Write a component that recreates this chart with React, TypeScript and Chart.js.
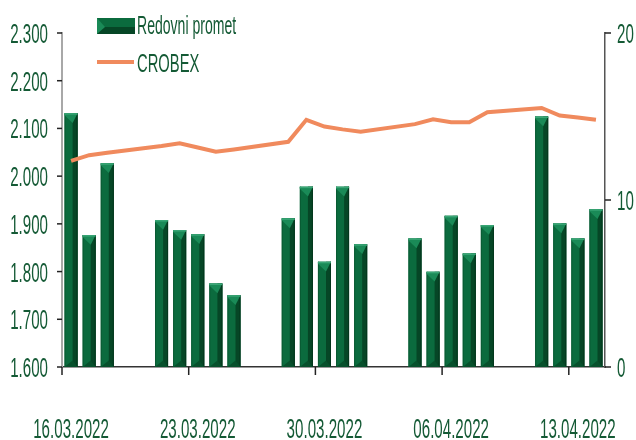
import React, { useEffect, useRef } from "react";
import { Chart, registerables } from "chart.js";

Chart.register(...registerables);

// ---- data ----
const dates = [
  "16.03.2022", "17.03.2022", "18.03.2022", "19.03.2022", "20.03.2022",
  "21.03.2022", "22.03.2022", "23.03.2022", "24.03.2022", "25.03.2022",
  "26.03.2022", "27.03.2022", "28.03.2022", "29.03.2022", "30.03.2022",
  "31.03.2022", "01.04.2022", "02.04.2022", "03.04.2022", "04.04.2022",
  "05.04.2022", "06.04.2022", "07.04.2022", "08.04.2022", "09.04.2022",
  "10.04.2022", "11.04.2022", "12.04.2022", "13.04.2022", "14.04.2022",
];

// Redovni promet (right axis, 0–20)
const turnover: (number | null)[] = [
  15.2, 7.9, 12.2, null, null,
  8.8, 8.2, 7.95, 5.0, 4.3,
  null, null, 8.9, 10.8, 6.3,
  10.8, 7.35, null, null, 7.7,
  5.7, 9.05, 6.8, 8.5, null,
  null, 15.0, 8.6, 7.7, 9.45,
];

// CROBEX (left axis, 1.600–2.300)
const crobex: (number | null)[] = [
  2032, 2044, 2049, null, null,
  2063, 2069, 2060, 2051, 2056,
  null, null, 2072, 2118, 2104,
  2098, 2093, null, null, 2109,
  2119, 2113, 2113, 2134, null,
  null, 2143, 2127, 2123, 2118,
];

const leftTicks = [1600, 1700, 1800, 1900, 2000, 2100, 2200, 2300];
const leftTickLabels = ["1.600", "1.700", "1.800", "1.900", "2.000", "2.100", "2.200", "2.300"];
const rightTicks = [0, 10, 20];
const rightTickLabels = ["0", "10", "20"];
const labelledDates = ["16.03.2022", "23.03.2022", "30.03.2022", "06.04.2022", "13.04.2022"];
const seriesNames = ["Redovni promet", "CROBEX"];

// ---- styles ----
const TEXT_COLOR = "#145a35";
const LINE_COLOR = "#f08a5d";
const BAR_COLOR = "#0b6b3e";
const BAR_DARK = "#064626";
const BAR_LIGHT = "#1a8a57";
const FONT = "'Liberation Sans', Arial, sans-serif";

function stretchText(
  ctx: CanvasRenderingContext2D,
  text: string,
  x: number,
  baseline: number,
  align: CanvasTextAlign,
  size: number,
  sx: number,
  sy: number
) {
  ctx.save();
  ctx.font = `${size}px ${FONT}`;
  ctx.fillStyle = TEXT_COLOR;
  ctx.textAlign = align;
  ctx.textBaseline = "alphabetic";
  ctx.translate(x, baseline);
  ctx.scale(sx, sy);
  ctx.fillText(text, 0, 0);
  ctx.restore();
}

function drawBarShape(ctx: CanvasRenderingContext2D, L: number, R: number, T: number, B: number) {
  const w = R - L;
  const split = L + w * 0.62;
  // right dark strip
  ctx.fillStyle = BAR_DARK;
  ctx.fillRect(split, T, R - split, B - T);
  ctx.fillStyle = "#04361c";
  ctx.fillRect(R - 1, T, 1, B - T);
  // left edge
  ctx.fillStyle = "#0a5a33";
  ctx.fillRect(L, T, 1, B - T);
  // top bevel triangle
  ctx.fillStyle = BAR_LIGHT;
  ctx.beginPath();
  ctx.moveTo(L, T);
  ctx.lineTo(R, T);
  ctx.lineTo(split, T + w * 0.75);
  ctx.lineTo(L, T + 2);
  ctx.closePath();
  ctx.fill();
  ctx.fillStyle = "#3aa676";
  ctx.fillRect(L, T, w, 1.5);
  // bottom bevel
  ctx.fillStyle = "#07502c";
  ctx.beginPath();
  ctx.moveTo(L, B);
  ctx.lineTo(R, B);
  ctx.lineTo(split, B - w * 0.5);
  ctx.closePath();
  ctx.fill();
}

const decor = {
  id: "decor",
  afterDatasetDraw(chart: any, args: any) {
    if (args.meta.type !== "bar") return;
    const ctx: CanvasRenderingContext2D = chart.ctx;
    ctx.save();
    args.meta.data.forEach((el: any, i: number) => {
      if (turnover[i] == null) return;
      const { x, y, base, width } = el.getProps(["x", "y", "base", "width"], true);
      drawBarShape(ctx, x - width / 2, x + width / 2, y, base);
    });
    ctx.restore();
  },
  afterDraw(chart: any) {
    const ctx: CanvasRenderingContext2D = chart.ctx;
    const area = chart.chartArea;
    const sy = chart.scales.y;
    const sy1 = chart.scales.y1;
    const sx = chart.scales.x;
    ctx.save();
    ctx.strokeStyle = "#222";
    ctx.lineWidth = 1.5;
    // left ticks + labels
    leftTicks.forEach((v, i) => {
      const py = sy.getPixelForValue(v);
      ctx.beginPath();
      ctx.moveTo(area.left - 5, py);
      ctx.lineTo(area.left, py);
      ctx.stroke();
      stretchText(ctx, leftTickLabels[i], 48, py + 10, "right", 18, 0.84, 1.55);
    });
    // right ticks + labels
    rightTicks.forEach((v, i) => {
      const py = sy1.getPixelForValue(v);
      ctx.beginPath();
      ctx.moveTo(area.right, py);
      ctx.lineTo(area.right + 6, py);
      ctx.stroke();
      stretchText(ctx, rightTickLabels[i], 617, py + 10, "left", 18, 0.84, 1.55);
    });
    // bottom ticks + labels
    const half = (sx.getPixelForValue(1) - sx.getPixelForValue(0)) / 2;
    labelledDates.forEach((d) => {
      const idx = dates.indexOf(d);
      const cx = sx.getPixelForValue(idx);
      ctx.beginPath();
      ctx.moveTo(cx - half, area.bottom);
      ctx.lineTo(cx - half, area.bottom + 8);
      ctx.stroke();
      stretchText(ctx, d, cx, 438, "center", 18, 0.84, 1.55);
    });
    // legend
    const lx = 97, lw = 38;
    ctx.fillStyle = BAR_COLOR;
    ctx.fillRect(lx, 18, lw, 16);
    ctx.fillStyle = BAR_DARK;
    ctx.fillRect(lx, 27, lw, 7);
    ctx.fillStyle = BAR_LIGHT;
    ctx.beginPath();
    ctx.moveTo(lx, 18);
    ctx.lineTo(lx, 34);
    ctx.lineTo(lx + 8, 27);
    ctx.closePath();
    ctx.fill();
    stretchText(ctx, seriesNames[0], 137, 34.3, "left", 18, 0.78, 1.48);
    ctx.strokeStyle = LINE_COLOR;
    ctx.lineWidth = 4;
    ctx.beginPath();
    ctx.moveTo(lx, 62);
    ctx.lineTo(lx + 37, 62);
    ctx.stroke();
    stretchText(ctx, seriesNames[1], 137, 71.7, "left", 18, 0.82, 1.45);
    ctx.restore();
  },
};

export default function App() {
  const ref = useRef<HTMLCanvasElement | null>(null);
  useEffect(() => {
    if (!ref.current) return;
    const chart = new Chart(ref.current, {
      data: {
        labels: dates,
        datasets: [
          {
            type: "line",
            label: seriesNames[1],
            data: crobex,
            yAxisID: "y",
            borderColor: LINE_COLOR,
            backgroundColor: LINE_COLOR,
            borderWidth: 4,
            pointRadius: 0,
            spanGaps: true,
            tension: 0,
            order: 0,
          },
          {
            type: "bar",
            label: seriesNames[0],
            data: turnover,
            yAxisID: "y1",
            backgroundColor: BAR_COLOR,
            categoryPercentage: 1,
            barPercentage: 0.72,
            order: 1,
          },
        ],
      } as any,
      options: {
        responsive: false,
        animation: false,
        layout: { padding: { left: 62, right: 31, top: 33, bottom: 73 } },
        plugins: { legend: { display: false }, tooltip: { enabled: false } },
        scales: {
          x: {
            type: "category",
            offset: true,
            grid: { display: false },
            ticks: { display: false },
            border: { display: true, color: "#333", width: 1.5 },
            afterFit: (s: any) => { s.height = 0; },
          },
          y: {
            position: "left",
            min: 1600,
            max: 2300,
            ticks: { display: false, stepSize: 100 },
            grid: { display: false },
            border: { display: true, color: "#a8a8a8", width: 2 },
            afterFit: (s: any) => { s.width = 0; },
          },
          y1: {
            position: "right",
            min: 0,
            max: 20,
            ticks: { display: false, stepSize: 10 },
            grid: { display: false },
            border: { display: true, color: "#555", width: 1.5 },
            afterFit: (s: any) => { s.width = 0; },
          },
        },
      } as any,
      plugins: [decor],
    });
    return () => chart.destroy();
  }, []);
  return (
    <div style={{ position: "fixed", left: 0, top: 0, width: 636, height: 440, background: "#fff" }}>
      <canvas ref={ref} width={636} height={440} style={{ display: "block" }} />
    </div>
  );
}
